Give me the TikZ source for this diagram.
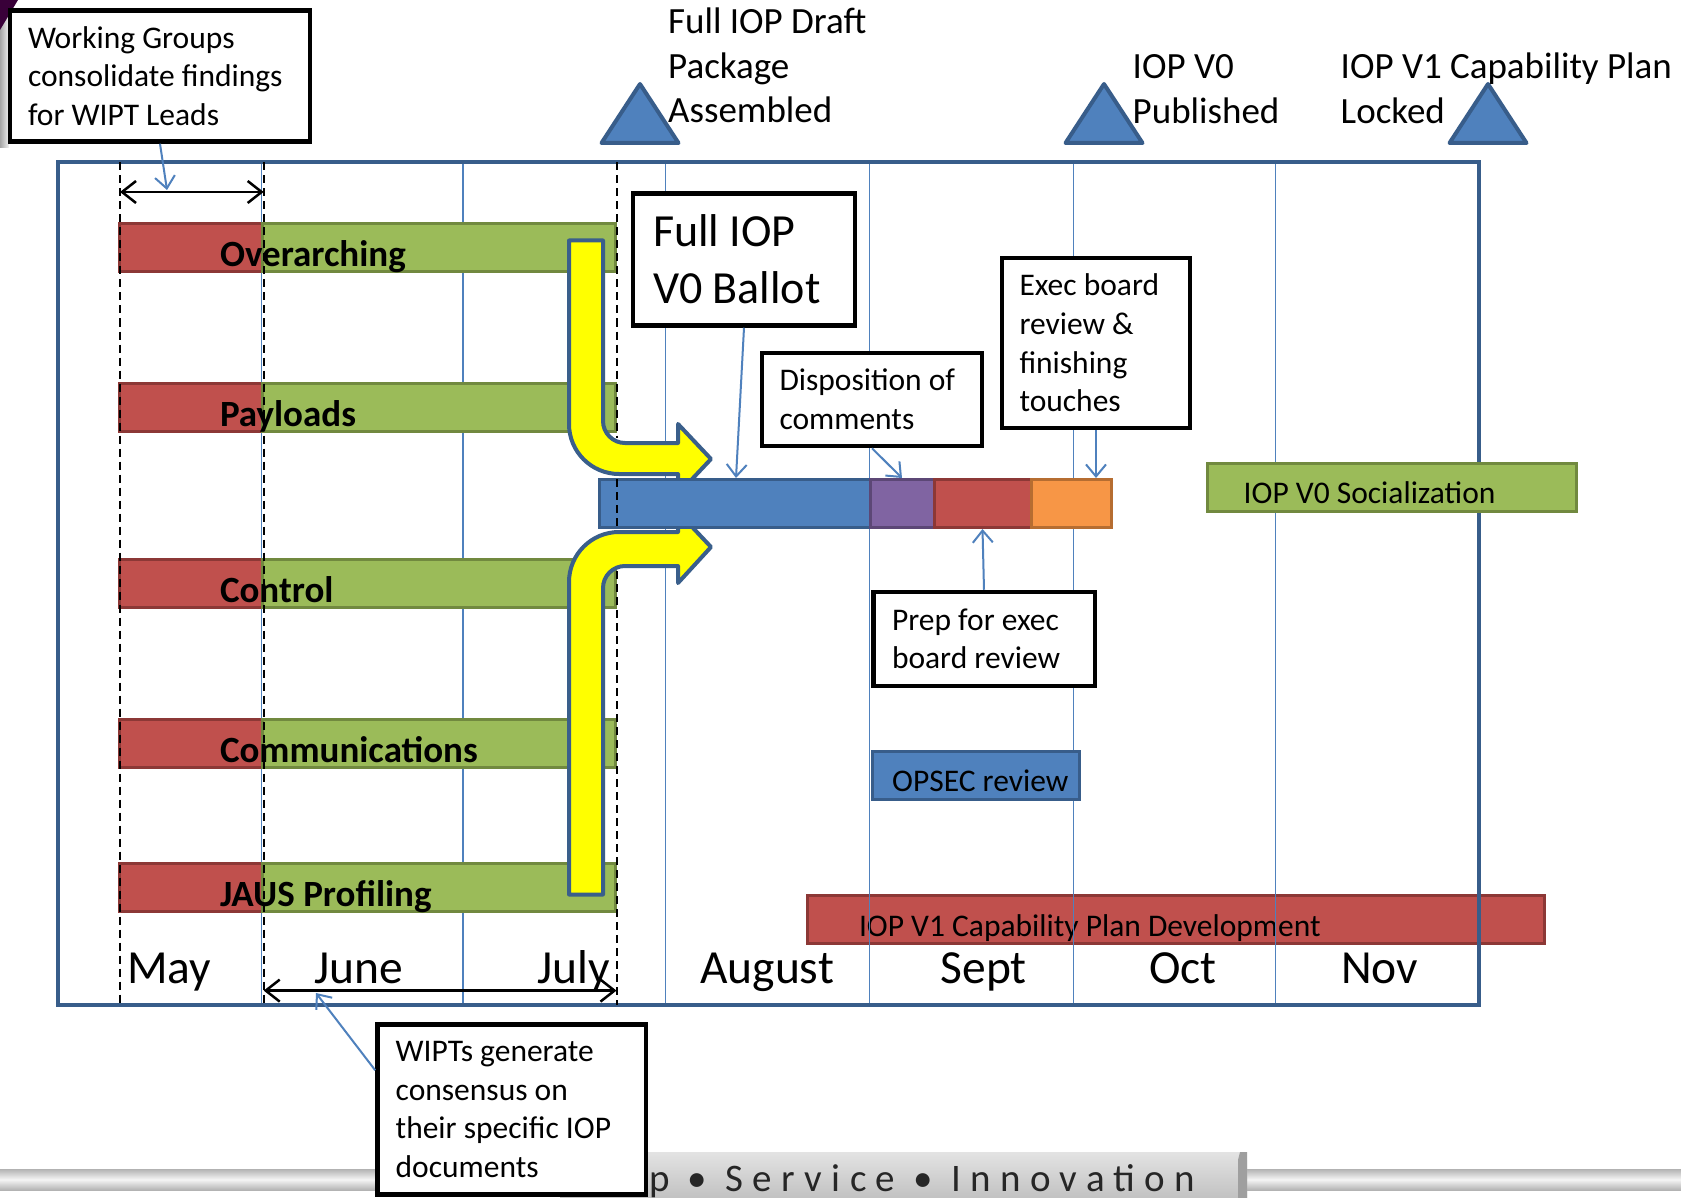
\documentclass[tikz,border=0pt]{standalone}
\usepackage{fontspec}
\setmainfont{Carlito}
\newfontfamily\footfont{Carlito}[LetterSpace=24]
\usetikzlibrary{arrows.meta,calc}
\definecolor{accblue}{HTML}{4F81BD}
\definecolor{accblueD}{HTML}{385D8A}
\definecolor{accred}{HTML}{C0504D}
\definecolor{accredD}{HTML}{8C3836}
\definecolor{accgreen}{HTML}{9BBB59}
\definecolor{accgreenD}{HTML}{71893F}
\definecolor{accpurple}{HTML}{8064A2}
\definecolor{accpurpleD}{HTML}{5C4776}
\definecolor{accorange}{HTML}{F79646}
\definecolor{accorangeD}{HTML}{B66D31}
\definecolor{arrowyellow}{HTML}{FFFF00}
\definecolor{arrowedge}{HTML}{3A5F8B}
\newcommand\fsnorm{\fontsize{31.5}{38.6}\selectfont}
\newcommand\fsbig{\fontsize{46}{57}\selectfont}
\newcommand\fsmile{\fontsize{37}{44.5}\selectfont}
\newcommand\fsmonth{\fontsize{47.5}{55}\selectfont}
\newcommand\fsbar{\fontsize{37}{44}\selectfont\bfseries}
\newcommand\nospacestretch{\spaceskip=0pt\xspaceskip=0pt\relax}
\begin{document}
\begin{tikzpicture}[x=1pt,y=-1pt,
  callbox/.style={draw=black,line width=4.5pt,fill=white,align=left,inner sep=0pt,font=\fsnorm,
    execute at begin node=\nospacestretch},
  taskbar/.style={line width=3pt,inner sep=0pt,minimum height=48pt},
  redbar/.style={taskbar,fill=accred,draw=accredD},
  greenbar/.style={taskbar,fill=accgreen,draw=accgreenD},
  bluebar/.style={taskbar,fill=accblue,draw=accblueD},
  purplebar/.style={taskbar,fill=accpurple,draw=accpurpleD},
  orangebar/.style={taskbar,fill=accorange,draw=accorangeD},
  barlabel/.style={anchor=base west,inner sep=0pt,font=\fsbar},
  bartext/.style={anchor=base west,inner sep=0pt,font=\fsnorm},
  mstext/.style={anchor=north west,inner sep=0pt,align=left,font=\fsmile},
  monthlbl/.style={anchor=base west,inner sep=0pt,font=\fsmonth},
  milestone/.style={fill=accblue,draw=accblueD,line width=4pt,line join=round},
  monthline/.style={draw=accblue,line width=1.3pt},
  guide/.style={draw=black,line width=2pt,dash pattern=on 8pt off 5pt},
  callarrow/.style={draw=accblue,line width=2pt,-{Straight Barb[length=12pt,width=20pt]}},
  dblarrow/.style={draw=black,line width=2.5pt,{Straight Barb[length=14pt,width=22pt]}-{Straight Barb[length=14pt,width=22pt]}},
  fatarrow/.style={fill=arrowyellow,draw=arrowedge,line width=4pt,line join=round}
]
\useasboundingbox (0,0) rectangle (1681,1198);
\fill[white] (0,0) rectangle (1681,1198);

% corner logo fragment
\shade[left color=gray!70,right color=gray!10] (0,0) rectangle (9,148);
\fill[violet!45!black] (0,0) -- (18,0) -- (0,30) -- cycle;

% footer band and tab
\shade[top color=gray!60,bottom color=gray!60,middle color=gray!8] (0,1169) rectangle (1681,1190);
\shade[top color=gray!22,bottom color=gray!48] (560,1152) -- (1240,1152) -- (1247,1160) -- (1247,1198) -- (560,1198) -- cycle;
\fill[gray!75] (1240,1152) -- (1247,1152) -- (1247,1198) -- (1238,1198) -- (1238,1160) -- cycle;
\node[anchor=base west,inner sep=0pt,text=black!85] (foot) at (649,1191) {\fontsize{39}{40}\footfont p • Service • Innovation};

% long bar below the month lines
\node[redbar,minimum width=737pt] (v1dev) at (1176,919.75) {};
\node[bartext] (tV1) at (858.8,936) {IOP V1 Capability Plan Development};

% frame and month lines
\draw[draw=accblueD,line width=4pt] (57.5,162.5) rectangle (1478.5,1005);
\foreach \mx in {261.6,463.1,665.8,869.5,1073.2,1275.8}
  \draw[monthline] (\mx,164.5) -- (\mx,1003);

% workstream bars
\foreach \nm/\cy in {over/247.6,pay/407.8,ctrl/583.8,comm/743.5,jaus/887.2}{
  \node[redbar,minimum width=142.5pt] (\nm R) at (190.75,\cy) {};
  \node[greenbar,minimum width=353.5pt] (\nm G) at (438.75,\cy) {};
}
\node[barlabel] (lOver) at (219.8,266.6) {Overarching};
\node[barlabel] (lPay) at (219.8,426.8) {Payloads};
\node[barlabel] (lCtrl) at (219.8,602.8) {Control};
\node[barlabel] (lComm) at (219.8,762.5) {Communications};
\node[barlabel] (lJaus) at (219.8,906.2) {JAUS Profiling};

% other bars
\node[bluebar,minimum width=207.5pt] (opsec) at (975.75,775.75) {};
\node[bartext] (tOps) at (892,791.5) {OPSEC review};
\node[greenbar,minimum width=369pt] (social) at (1392,487.5) {};
\node[bartext] (tSoc) at (1243.5,503.5) {IOP V0 Socialization};

% yellow arrows
\draw[fatarrow] (569,240.5) -- (603,240.5) -- (603,421) .. controls (603,433.1) and (612.9,443) .. (625,443) -- (678,443) -- (678,424) -- (711,459) -- (678,494) -- (678,474) -- (619,474) .. controls (591.4,474) and (569,451.6) .. (569,424) -- cycle;
\draw[fatarrow] (569,894.5) -- (603,894.5) -- (603,588) .. controls (603,575.9) and (612.9,566) .. (625,566) -- (678,566) -- (678,583) -- (711,547) -- (678,512) -- (678,532) -- (619,532) .. controls (591.4,532) and (569,554.4) .. (569,582) -- cycle;

% ballot bar
\node[bluebar,minimum width=271pt] (vball) at (735,503.5) {};
\node[purplebar,minimum width=63.5pt] (dispseg) at (902.25,503.5) {};
\node[redbar,minimum width=97pt] (prepseg) at (982.5,503.5) {};
\node[orangebar,minimum width=80pt] (execseg) at (1071,503.5) {};

% dashed guides
\draw[guide] (120,162.5) -- (120,1005);
\draw[guide] (263.7,162.5) -- (263.7,1005);
\draw[guide] (616.5,162.5) -- (616.5,438);
\draw[guide] (616.5,479) -- (616.5,530);
\draw[guide] (616.5,571) -- (616.5,1005);

% milestones
\draw[milestone] (640,84) -- (678.5,143) -- (601.5,143) -- cycle;
\draw[milestone] (1104,84) -- (1142.5,143) -- (1065.5,143) -- cycle;
\draw[milestone] (1488,84) -- (1526.5,143) -- (1449.5,143) -- cycle;
\node[mstext] (m1t) at (668,2.5) {\strut Full IOP Draft\\Package\\Assembled};
\node[mstext] (m2t) at (1132.5,47.5) {\strut IOP V0\\Published};
\node[mstext] (m3t) at (1340.5,47.5) {\strut IOP V1 Capability Plan\\Locked};

% month labels
\node[monthlbl] (mMay) at (127,983) {May};
\node[monthlbl] (mJun) at (314,983) {June};
\node[monthlbl] (mJul) at (537.5,983) {July};
\node[monthlbl] (mAug) at (700,983) {August};
\node[monthlbl] (mSep) at (940.5,983) {Sept};
\node[monthlbl] (mOct) at (1149,983) {Oct};
\node[monthlbl] (mNov) at (1341,983) {Nov};

% span arrows
\coordinate (spanA) at (120,192);
\coordinate (spanB) at (263.7,192);
\coordinate (spanC) at (263.7,990.6);
\coordinate (spanD) at (616.5,990.6);
\draw[dblarrow] (spanA) -- (spanB);
\draw[dblarrow] (spanC) -- (spanD);

% callout boxes
\node[callbox,minimum width=300pt,minimum height=131pt,text width=264pt] (wg) at (160,76) {Working Groups\\consolidate findings\\for WIPT Leads};
\node[callbox,font=\fsbig,minimum width=222pt,minimum height=132pt,text width=182pt] (ballot) at (744,259.5) {Full IOP\\V0 Ballot};
\node[callbox,minimum width=220pt,minimum height=93pt,text width=185pt] (disp) at (872,399.5) {Disposition of\\comments};
\node[callbox,minimum width=188pt,minimum height=170pt,text width=153pt] (exec) at (1096,343) {Exec board\\review \&\\finishing\\touches};
\node[callbox,minimum width=221.5pt,minimum height=94pt,text width=184pt] (prep) at (984,639) {Prep for exec\\board review};
\node[callbox,minimum width=268.5pt,minimum height=170pt,text width=232pt] (wipt) at (511.7,1109.5) {WIPTs generate\\consensus on\\their specific IOP\\documents};

% callout connectors
\coordinate (wgtip) at (167,190);
\coordinate (balltip) at (736,478);
\coordinate (disptip) at (902,478);
\coordinate (exectip) at (1096,478);
\coordinate (wipttip) at (316,993);
\draw[callarrow] (wg.south) -- (wgtip);
\draw[callarrow] (ballot.south) -- (balltip);
\draw[callarrow] (disp.south) -- (disptip);
\draw[callarrow] (exec.south) -- (exectip);
\draw[callarrow] (prep.north) -- (prepseg.south);
\draw[callarrow] ([yshift=-48pt]wipt.north west) -- (wipttip);
\end{tikzpicture}
\end{document}
